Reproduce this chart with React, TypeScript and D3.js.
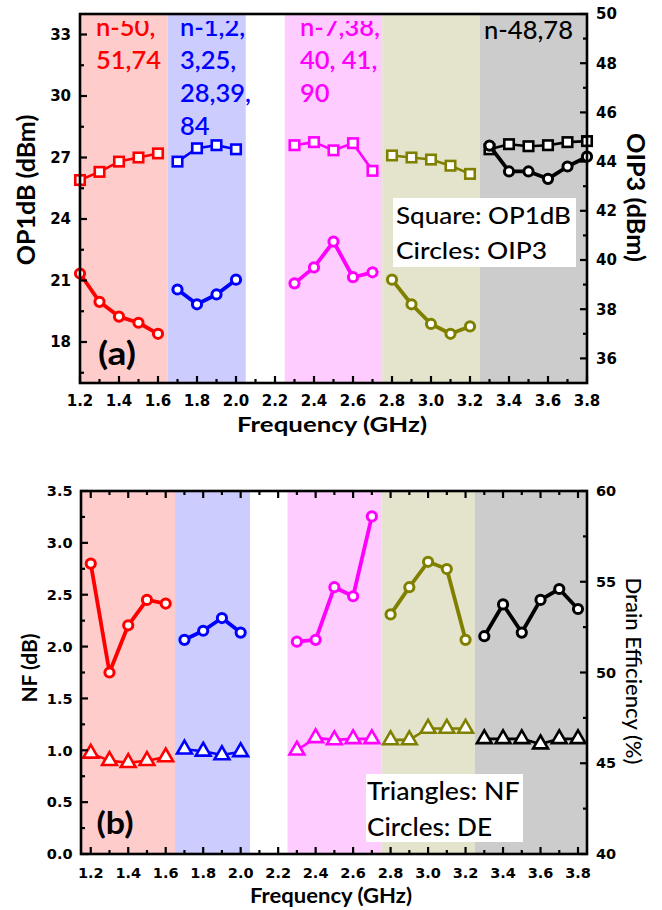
import React from 'react';
import * as d3 from 'd3';

const W = 662;
const H = 910;

// Frequency points (GHz) for each band group
const freqRed = [1.2, 1.3, 1.4, 1.5, 1.6];
const freqBlue = [1.7, 1.8, 1.9, 2.0];
const freqPink = [2.3, 2.4, 2.5, 2.6, 2.7];
const freqOlive = [2.8, 2.9, 3.0, 3.1, 3.2];
const freqBlack = [3.3, 3.4, 3.5, 3.6, 3.7, 3.8];

// OP1dB (dBm), left axis of panel (a)
const op1dbRed = [25.9, 26.3, 26.8, 27.0, 27.2];
const op1dbBlue = [26.8, 27.45, 27.6, 27.4];
const op1dbPink = [27.6, 27.75, 27.35, 27.7, 26.35];
const op1dbOlive = [27.1, 27.0, 26.9, 26.6, 26.2];
const op1dbBlack = [27.4, 27.65, 27.55, 27.6, 27.75, 27.8];

// OIP3 (dBm), right axis of panel (a)
const oip3Red = [39.45, 38.3, 37.7, 37.45, 37.0];
const oip3Blue = [38.8, 38.2, 38.6, 39.2];
const oip3Pink = [39.05, 39.7, 40.75, 39.3, 39.5];
const oip3Olive = [39.2, 38.2, 37.4, 37.0, 37.3];
const oip3Black = [44.65, 43.6, 43.6, 43.3, 43.8, 44.2];

// Noise figure (dB), left axis of panel (b)
const nfRed = [0.97, 0.9, 0.88, 0.9, 0.935];
const nfBlue = [1.01, 0.99, 0.955, 0.985];
const nfPink = [1.0, 1.12, 1.1, 1.11, 1.11];
const nfOlive = [1.1, 1.1, 1.21, 1.21, 1.21];
const nfBlack = [1.11, 1.11, 1.11, 1.06, 1.11, 1.11];

// Drain efficiency (%), right axis of panel (b)
const deRed = [56.0, 50.0, 52.6, 54.0, 53.8];
const deBlue = [51.8, 52.3, 53.0, 52.2];
const dePink = [51.7, 51.8, 54.7, 54.2, 58.6];
const deOlive = [53.2, 54.7, 56.1, 55.7, 51.8];
const deBlack = [52.0, 53.75, 52.2, 54.0, 54.6, 53.5];

// Band edges (GHz)
const bandStart = [1.0, 1.65, 2.25, 2.75, 3.25];
const bandEnd = [1.65, 2.05, 2.75, 3.25, 4.0];

// Band names (NR bands)
const bandLabelsRed = ['n-50,', '51,74'];
const bandLabelsBlue = ['n-1,2,', '3,25,', '28,39,', '84'];
const bandLabelsPink = ['n-7,38,', '40, 41,', '90'];
const bandLabelsBlack = ['n-48,78'];

const seriesColors = ['#ff0000', '#0000ff', '#ff00ff', '#808000', '#000000'];
const bandColors = ['#ffcccc', '#ccccff', '#ffccff', '#e4e4cc', '#cccccc'];

const freqs = [freqRed, freqBlue, freqPink, freqOlive, freqBlack];
const op1db = [op1dbRed, op1dbBlue, op1dbPink, op1dbOlive, op1dbBlack];
const oip3 = [oip3Red, oip3Blue, oip3Pink, oip3Olive, oip3Black];
const nf = [nfRed, nfBlue, nfPink, nfOlive, nfBlack];
const de = [deRed, deBlue, dePink, deOlive, deBlack];

const TICK_FONT = "'DejaVu Sans', Verdana, sans-serif";
const LABEL_FONT = "Lato, 'Open Sans', sans-serif";

type Scale = d3.ScaleLinear<number, number>;

function range(a: number, b: number, step: number) {
  const out: number[] = [];
  for (let v = a; v <= b + 1e-9; v += step) out.push(Math.round(v * 1000) / 1000);
  return out;
}

function Square({ cx, cy, color }: { cx: number; cy: number; color: string }) {
  const s = 9.5;
  return <rect x={cx - s / 2} y={cy - s / 2} width={s} height={s} fill="#fff" stroke={color} strokeWidth={2.6} />;
}

function Circle({ cx, cy, color }: { cx: number; cy: number; color: string }) {
  return <circle cx={cx} cy={cy} r={4.6} fill="#fff" stroke={color} strokeWidth={3} />;
}

function Triangle({ cx, cy, color }: { cx: number; cy: number; color: string }) {
  const sym = d3.symbol(d3.symbolTriangle, 95)();
  return <path d={sym || ''} transform={`translate(${cx},${cy})`} fill="#fff" stroke={color} strokeWidth={2.6} />;
}

function Series({ xs, ys, x, y, color, marker, width }: {
  xs: number[]; ys: number[]; x: Scale; y: Scale; color: string; marker: 'sq' | 'ci' | 'tr'; width: number;
}) {
  const pts: [number, number][] = xs.map((f, i) => [x(f), y(ys[i])]);
  const line = d3.line()(pts) || '';
  return (
    <g>
      <path d={line} fill="none" stroke={color} strokeWidth={width} strokeLinejoin="round" />
      {pts.map(([px, py], i) =>
        marker === 'sq' ? <Square key={i} cx={px} cy={py} color={color} /> :
        marker === 'ci' ? <Circle key={i} cx={px} cy={py} color={color} /> :
        <Triangle key={i} cx={px} cy={py} color={color} />
      )}
    </g>
  );
}

function Axes({ x, yL, yR, left, right, top, bottom, xMajor, xMinor, yLMajor, yLMinor, yRMajor, yRMinor,
  fmtL, fmtR, topTicks, fontSize, leftLabelX, xLabelY }: any) {
  const maj = 7;
  const min = 4;
  const sw = 2.2;
  return (
    <g>
      {/* bottom ticks */}
      {xMajor.map((v: number) => <line key={'bx' + v} x1={x(v)} x2={x(v)} y1={bottom} y2={bottom - maj} stroke="#000" strokeWidth={sw} />)}
      {xMinor.map((v: number) => <line key={'bxm' + v} x1={x(v)} x2={x(v)} y1={bottom} y2={bottom - min} stroke="#000" strokeWidth={sw} />)}
      {topTicks && xMajor.map((v: number) => <line key={'tx' + v} x1={x(v)} x2={x(v)} y1={top} y2={top + maj} stroke="#000" strokeWidth={sw} />)}
      {topTicks && xMinor.map((v: number) => <line key={'txm' + v} x1={x(v)} x2={x(v)} y1={top} y2={top + min} stroke="#000" strokeWidth={sw} />)}
      {/* left ticks */}
      {yLMajor.map((v: number) => <line key={'l' + v} x1={left} x2={left + maj} y1={yL(v)} y2={yL(v)} stroke="#000" strokeWidth={sw} />)}
      {yLMinor.map((v: number) => <line key={'lm' + v} x1={left} x2={left + min} y1={yL(v)} y2={yL(v)} stroke="#000" strokeWidth={sw} />)}
      {/* right ticks */}
      {yRMajor.map((v: number) => <line key={'r' + v} x1={right} x2={right - maj} y1={yR(v)} y2={yR(v)} stroke="#000" strokeWidth={sw} />)}
      {yRMinor.map((v: number) => <line key={'rm' + v} x1={right} x2={right - min} y1={yR(v)} y2={yR(v)} stroke="#000" strokeWidth={sw} />)}
      {/* frame */}
      <rect x={left} y={top} width={right - left} height={bottom - top} fill="none" stroke="#000" strokeWidth={2.6} />
      {/* tick labels */}
      <g fontFamily={TICK_FONT} fontWeight="bold" fontSize={fontSize} fill="#000">
        {xMajor.map((v: number) => <text key={'bl' + v} x={x(v)} y={xLabelY} textAnchor="middle">{v.toFixed(1)}</text>)}
        {yLMajor.map((v: number) => <text key={'ll' + v} x={leftLabelX} y={yL(v)} dy="0.36em" textAnchor="end">{fmtL(v)}</text>)}
        {yRMajor.map((v: number) => <text key={'rl' + v} x={right + 9} y={yR(v)} dy="0.36em" textAnchor="start">{fmtR(v)}</text>)}
      </g>
    </g>
  );
}

export default function App() {
  // Panel (a) geometry
  const aL = 80, aR = 587, aT = 14, aB = 383;
  const xa = d3.scaleLinear().domain([1.2, 3.8]).range([aL, aR]);
  const ya = d3.scaleLinear().domain([16, 34]).range([aB, aT]);
  const yaR = d3.scaleLinear().domain([35, 50]).range([aB, aT]);

  // Panel (b) geometry
  const bL = 81, bR = 587, bT = 491, bB = 854;
  const xb = d3.scaleLinear().domain([1.148, 3.848]).range([bL, bR]);
  const yb = d3.scaleLinear().domain([0, 3.5]).range([bB, bT]);
  const ybR = d3.scaleLinear().domain([40, 60]).range([bB, bT]);

  const xMajor = range(1.2, 3.8, 0.2);
  const xMinor = range(1.3, 3.7, 0.2);

  const bands = (x: Scale, left: number, right: number, top: number, bottom: number) =>
    bandStart.map((s, i) => {
      const x0 = Math.max(left, x(s));
      const x1 = Math.min(right, x(bandEnd[i]));
      return <rect key={i} x={x0} y={top} width={x1 - x0} height={bottom - top} fill={bandColors[i]} />;
    });

  // Band name blocks; the first line sits against the top edge and is trimmed by it
  const bandText = (lines: string[], x0: number, color: string, key: string) => (
    <g key={key} clipPath="url(#topClip)" fontFamily={LABEL_FONT} fontSize={25.5} fontWeight={600} fill={color}>
      {lines.map((t, i) => <text key={i} x={x0} y={35.5 + i * 33.3}>{t}</text>)}
    </g>
  );

  return (
    <svg width={W} height={H} viewBox={`0 0 ${W} ${H}`} style={{ position: 'absolute', left: 0, top: 0, background: '#fff' }}>
      <defs>
        <clipPath id="topClip">
          <rect x={0} y={21} width={W} height={400} />
        </clipPath>
      </defs>
      <rect x={0} y={0} width={W} height={H} fill="#fff" />

      {/* ---------- Panel (a): OP1dB and OIP3 ---------- */}
      {bands(xa, aL, aR, aT, aB)}
      {bandText(bandLabelsRed, 96, seriesColors[0], 'tr')}
      {bandText(bandLabelsBlue, 180, seriesColors[1], 'tb')}
      {bandText(bandLabelsPink, 300, seriesColors[2], 'tp')}
      <g fontFamily={LABEL_FONT} fontSize={25} fontWeight={500} fill="#000">
        <text x={484} y={39} textLength={89} lengthAdjust="spacingAndGlyphs">{bandLabelsBlack[0]}</text>
      </g>
      {freqs.map((f, i) => (
        <Series key={'op' + i} xs={f} ys={op1db[i]} x={xa} y={ya} color={seriesColors[i]} marker="sq" width={2.6} />
      ))}
      {freqs.map((f, i) => (
        <Series key={'ip' + i} xs={f} ys={oip3[i]} x={xa} y={yaR} color={seriesColors[i]} marker="ci" width={3.8} />
      ))}
      <rect x={393} y={198} width={183} height={69} fill="#fff" />
      <g fontFamily={LABEL_FONT} fontSize={22.5} fontWeight={500} fill="#000">
        <text x={396} y={224} textLength={175} lengthAdjust="spacingAndGlyphs">Square: OP1dB</text>
        <text x={396} y={259} textLength={151} lengthAdjust="spacingAndGlyphs">Circles: OIP3</text>
      </g>
      <text x={98} y={365} fontFamily={LABEL_FONT} fontSize={32} fontWeight="bold" textLength={38} lengthAdjust="spacingAndGlyphs">(a)</text>
      <Axes x={xa} yL={ya} yR={yaR} left={aL} right={aR} top={aT} bottom={aB}
        xMajor={xMajor} xMinor={xMinor}
        yLMajor={range(18, 33, 3)} yLMinor={range(16.5, 31.5, 3)}
        yRMajor={range(36, 50, 2)} yRMinor={range(37, 49, 2)}
        fmtL={(v: number) => String(v)} fmtR={(v: number) => String(v)} topTicks={false}
        fontSize={15} leftLabelX={71} xLabelY={406} />
      <text x={237} y={432} fontFamily={LABEL_FONT} fontSize={21.5} fontWeight="bold" textLength={190} lengthAdjust="spacingAndGlyphs">Frequency (GHz)</text>
      <text transform="translate(35,190) rotate(-90)" textAnchor="middle" fontFamily={LABEL_FONT} fontSize={25} fontWeight="bold">OP1dB (dBm)</text>
      <text transform="translate(627,197.5) rotate(90)" x={-64.5} fontFamily={LABEL_FONT} fontSize={25.5} fontWeight="bold" textLength={129} lengthAdjust="spacingAndGlyphs">OIP3 (dBm)</text>

      {/* ---------- Panel (b): NF and drain efficiency ---------- */}
      {bands(xb, bL, bR, bT, bB)}
      {freqs.map((f, i) => (
        <Series key={'nf' + i} xs={f} ys={nf[i]} x={xb} y={yb} color={seriesColors[i]} marker="tr" width={2.6} />
      ))}
      {freqs.map((f, i) => (
        <Series key={'de' + i} xs={f} ys={de[i]} x={xb} y={ybR} color={seriesColors[i]} marker="ci" width={3.8} />
      ))}
      <rect x={366} y={774} width={157} height={68} fill="#fff" />
      <g fontFamily={LABEL_FONT} fontSize={24.5} fontWeight={500} fill="#000">
        <text x={367} y={800} textLength={152.5} lengthAdjust="spacingAndGlyphs">Triangles: NF</text>
        <text x={367} y={836} textLength={125} lengthAdjust="spacingAndGlyphs">Circles: DE</text>
      </g>
      <text x={96.5} y={834} fontFamily={LABEL_FONT} fontSize={31} fontWeight="bold" textLength={37} lengthAdjust="spacingAndGlyphs">(b)</text>
      <Axes x={xb} yL={yb} yR={ybR} left={bL} right={bR} top={bT} bottom={bB}
        xMajor={xMajor} xMinor={xMinor}
        yLMajor={range(0, 3.5, 0.5)} yLMinor={range(0.25, 3.25, 0.5)}
        yRMajor={range(40, 60, 5)} yRMinor={range(42.5, 57.5, 5)}
        fmtL={(v: number) => v.toFixed(1)} fmtR={(v: number) => String(v)} topTicks={true}
        fontSize={14.5} leftLabelX={72.5} xLabelY={878} />
      <text x={250} y={903} fontFamily={LABEL_FONT} fontSize={21} fontWeight="bold" textLength={162} lengthAdjust="spacingAndGlyphs">Frequency (GHz)</text>
      <text transform="translate(37,668) rotate(-90)" textAnchor="middle" fontFamily={LABEL_FONT} fontSize={21} fontWeight="bold">NF (dB)</text>
      <text transform="translate(626,671) rotate(90)" textAnchor="middle" fontFamily={LABEL_FONT} fontSize={22} fontWeight={500}>Drain Efficiency (%)</text>
    </svg>
  );
}
